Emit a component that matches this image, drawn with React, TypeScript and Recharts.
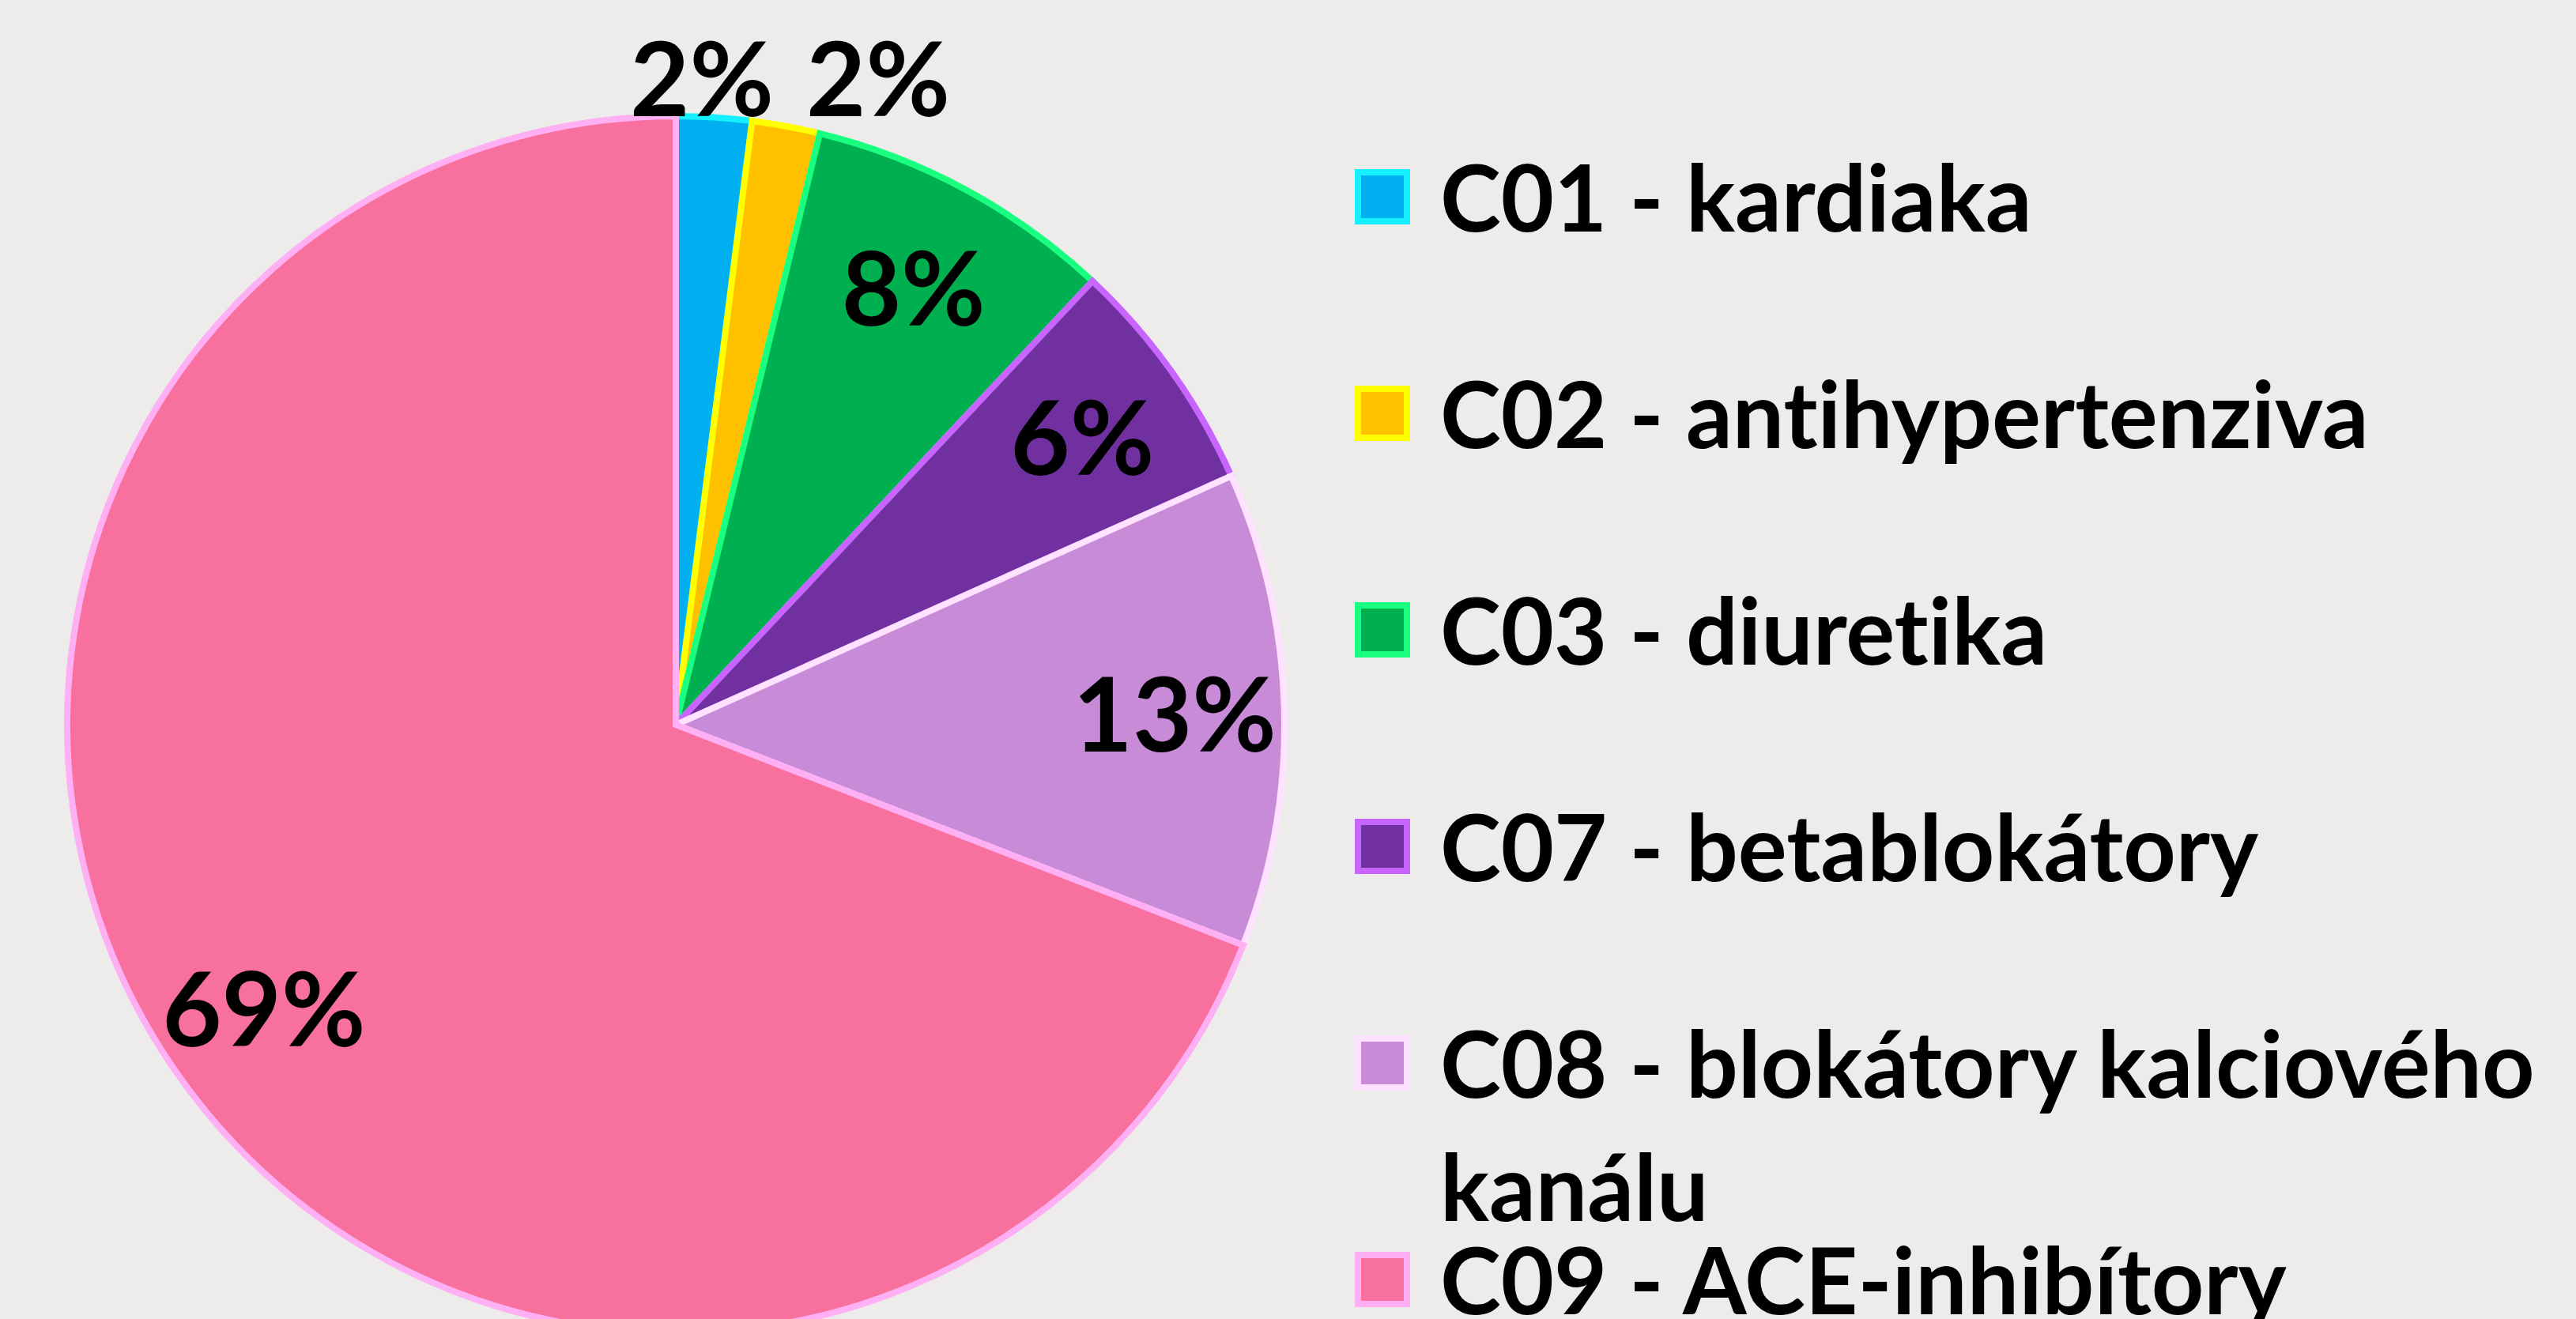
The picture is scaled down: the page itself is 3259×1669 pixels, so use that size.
import { Cell, Legend, Pie, PieChart } from "recharts";

const categories = [
    "C01 - kardiaka",
    "C02 - antihypertenziva",
    "C03 - diuretika",
    "C07 - betablokátory",
    "C08 - blokátory kalciového kanálu",
    "C09 - ACE-inhibítory",
];
const shares = [2.0, 1.8, 8.2, 6.3, 12.6, 69.1];
const fills = ["#00b0f0", "#ffc000", "#00b050", "#7030a0", "#c88bd8", "#f8709e"];
const strokes = ["#14f0ff", "#ffff00", "#19ff80", "#c965ff", "#ffe2ff", "#ffb0f4"];

const data = categories.map((name, i) => ({ name, value: shares[i] }));

const FONT = "Lato, 'Open Sans', sans-serif";
const RAD = Math.PI / 180;

const renderLabel = (props: any) => {
    const { cx, cy, midAngle, outerRadius, percent, index } = props;
    const text = `${Math.round(percent * 100)}%`;
    let x: number;
    let y: number;
    if (percent < 0.03) {
        // small slices: labels sit above the pie, side by side
        x = cx + 33 + index * 223;
        y = cy - outerRadius * 1.065;
    } else {
        const r = outerRadius * 0.82;
        x = cx + r * Math.cos(-midAngle * RAD);
        y = cy + r * Math.sin(-midAngle * RAD);
    }
    return (
        <text
            x={x}
            y={y}
            fill="#000"
            textAnchor="middle"
            dominantBaseline="central"
            fontFamily={FONT}
            fontWeight={700}
            fontSize={130}
        >
            {text}
        </text>
    );
};

const LegendContent = ({ payload }: any) => (
    <div
        style={{
            fontFamily: FONT,
            fontWeight: 700,
            fontSize: 116,
            color: "#000",
            fontVariantLigatures: "none",
        }}
    >
        {(payload || []).map((entry: any, i: number) => (
            <div key={entry.value} style={{ height: 274, display: "flex", alignItems: "flex-start" }}>
                <div
                    style={{
                        width: 54,
                        height: 54,
                        marginTop: 43,
                        flexShrink: 0,
                        background: entry.color,
                        border: `8px solid ${strokes[i]}`,
                    }}
                />
                <div style={{ marginLeft: 38, lineHeight: "156px", width: 1420 }}>{entry.value}</div>
            </div>
        ))}
    </div>
);

export default function App() {
    return (
        <div style={{ width: 3259, height: 1669, overflow: "hidden", background: "#edecea", position: "relative" }}>
            <style>{"body{margin:0}"}</style>
            <PieChart width={3259} height={1800}>
                <Pie
                    data={data}
                    dataKey="value"
                    nameKey="name"
                    cx={850}
                    cy={912}
                    outerRadius={770}
                    startAngle={90}
                    endAngle={-270}
                    label={renderLabel}
                    labelLine={false}
                    isAnimationActive={false}
                >
                    {data.map((d, i) => (
                        <Cell key={d.name} fill={fills[i]} stroke={strokes[i]} strokeWidth={8} />
                    ))}
                </Pie>
                <Legend
                    layout="vertical"
                    content={<LegendContent />}
                    wrapperStyle={{ position: "absolute", left: 1714, top: 171, width: 1545 }}
                />
            </PieChart>
        </div>
    );
}
